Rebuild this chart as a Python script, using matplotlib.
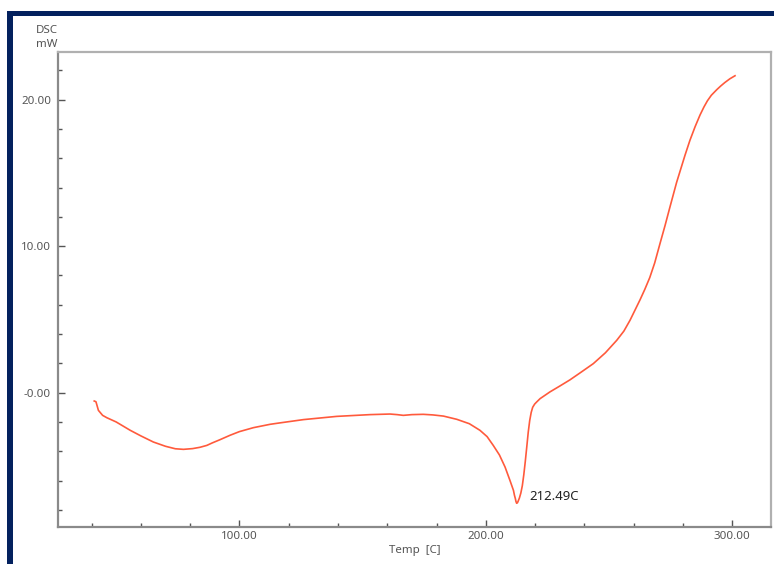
import matplotlib
matplotlib.use("Agg")
import matplotlib.pyplot as plt
from matplotlib.patches import Rectangle
from matplotlib.ticker import MultipleLocator

plt.rcParams['font.family'] = ['Noto Sans', 'DejaVu Sans']

# DSC trace: temperature (C) and heat flow (mW)
temp = [41.1, 41.8, 42.8, 44.5, 46.2, 50.0, 55.7, 60.0, 65.1, 70.0, 74.0, 77.3,
        81.0, 84.0, 86.8, 89.0, 92.0, 96.2, 100.0, 105.7, 112.5, 116.2, 126.0,
        139.5, 153.0, 161.1, 164.0, 166.5, 170.0, 174.6, 178.5, 182.8, 188.2,
        193.3, 197.6, 200.5, 203.0, 205.5, 207.8, 209.8, 211.2, 211.6, 212.0,
        212.2, 212.49, 212.8, 213.0, 213.6, 214.2, 214.8, 215.4, 216.0, 216.6,
        217.2, 217.8, 218.4, 219.0, 219.8, 220.6, 222.0, 226.0, 230.0, 234.1,
        238.5, 243.6, 248.5, 253.1, 256.0, 258.5, 260.8, 262.6, 264.5, 266.5,
        268.5, 270.7, 272.7, 274.7, 277.4, 280.8, 282.8, 284.9, 286.9, 288.5,
        289.9, 291.5, 293.7, 295.3, 297.0, 299.0, 301.1]
heat_flow = [-0.57, -0.62, -1.21, -1.55, -1.71, -2.00, -2.57, -2.95, -3.37, -3.66,
             -3.83, -3.87, -3.82, -3.73, -3.60, -3.43, -3.22, -2.91, -2.66, -2.39,
             -2.16, -2.07, -1.84, -1.62, -1.50, -1.46, -1.50, -1.55, -1.50, -1.48,
             -1.52, -1.60, -1.82, -2.12, -2.57, -3.00, -3.60, -4.25, -5.08, -6.00,
             -6.67, -7.00, -7.25, -7.42, -7.55, -7.52, -7.45, -7.20, -6.85, -6.35,
             -5.60, -4.70, -3.71, -2.70, -1.90, -1.35, -1.00, -0.78, -0.64, -0.41,
             0.05, 0.45, 0.87, 1.38, 1.98, 2.72, 3.57, 4.20, 4.94, 5.73, 6.35, 7.05,
             7.85, 8.85, 10.20, 11.40, 12.67, 14.35, 16.20, 17.22, 18.15, 18.95,
             19.50, 19.92, 20.30, 20.68, 20.93, 21.17, 21.42, 21.63]

peak_temp = 212.49
peak_flow = -7.55
peak_label = "212.49C"

x_major = [100, 200, 300]
x_major_labels = ["100.00", "200.00", "300.00"]
y_major = [0, 10, 20]
y_major_labels = ["-0.00", "10.00", "20.00"]

W, H = 774, 564
fig = plt.figure(figsize=(W / 100, H / 100), dpi=100)
fig.patch.set_facecolor('white')

# navy window frame along the top and left edges
navy = '#03215e'
fig.add_artist(Rectangle((7 / W, 1 - 16 / H), 1 - 7 / W, 5 / H,
                         transform=fig.transFigure, color=navy, lw=0))
fig.add_artist(Rectangle((7 / W, 0), 6 / W, 1 - 11 / H,
                         transform=fig.transFigure, color=navy, lw=0))

ax = fig.add_axes([58 / W, 1 - 527 / H, (771 - 58) / W, (527 - 52) / H])
ax.plot(temp, heat_flow, color='#ff5a3c', lw=1.2)

ax.set_xlim(26.4, 315.7)
ax.set_ylim(-9.17, 23.25)

ax.set_xticks(x_major)
ax.set_xticklabels(x_major_labels)
ax.set_yticks(y_major)
ax.set_yticklabels(y_major_labels)
ax.xaxis.set_minor_locator(MultipleLocator(20))
ax.yaxis.set_minor_locator(MultipleLocator(2))

label_gray = '#555555'
ax.tick_params(which='major', direction='in', length=5, width=1.0,
               color='#555555', labelsize=8.3, labelcolor=label_gray)
ax.tick_params(which='minor', direction='in', length=3, width=1.0, color='#555555')
ax.tick_params(axis='y', pad=5)
ax.tick_params(axis='x', pad=3)

for side in ('left', 'bottom'):
    ax.spines[side].set_color('#8a8a8a')
    ax.spines[side].set_linewidth(1.6)
for side in ('top', 'right'):
    ax.spines[side].set_color('#b0b0b0')
    ax.spines[side].set_linewidth(1.6)

ax.set_xlabel("Temp  [C]", fontsize=8.3, color=label_gray, labelpad=2)

fig.text(57.5 / W, 1 - 30.5 / H, "DSC", ha='right', va='center',
         fontsize=8.3, color=label_gray)
fig.text(57.5 / W, 1 - 44.5 / H, "mW", ha='right', va='center',
         fontsize=8.3, color=label_gray)

ax.annotate(peak_label, xy=(peak_temp, peak_flow), xytext=(13, 7),
            textcoords='offset pixels', ha='left', va='center',
            fontsize=9.5, color='#222222')

fig.savefig("out.png", dpi=100)
